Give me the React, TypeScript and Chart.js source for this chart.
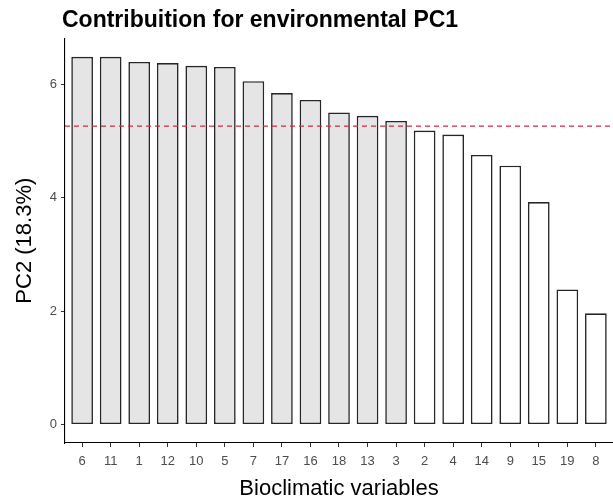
import { useEffect, useRef } from "react";
import { Chart, registerables } from "chart.js";

Chart.register(...registerables);

const chartTitle = "Contribuition for environmental PC1";
const xAxisTitle = "Bioclimatic variables";
const yAxisTitle = "PC2 (18.3%)";

const categories = ["6", "11", "1", "12", "10", "5", "7", "17", "16", "18", "13", "3", "2", "4", "14", "9", "15", "19", "8"];
const contributions = [6.48, 6.48, 6.39, 6.37, 6.32, 6.3, 6.05, 5.84, 5.72, 5.5, 5.44, 5.35, 5.18, 5.11, 4.75, 4.56, 3.92, 2.38, 1.96];
const expectedContribution = 5.26;
const yTickValues = [0, 2, 4, 6];

const FONT = '"Liberation Sans", Arial, Helvetica, sans-serif';

const titlePlugin = {
  id: "plotTitle",
  afterDraw(chart: any) {
    const ctx = chart.ctx;
    ctx.save();
    ctx.font = `bold 23px ${FONT}`;
    ctx.fillStyle = "#000000";
    ctx.textAlign = "left";
    ctx.textBaseline = "alphabetic";
    ctx.fillText(chartTitle, chart.chartArea.left - 3, 27);
    ctx.restore();
  },
};

export default function App() {
  const canvasRef = useRef<HTMLCanvasElement | null>(null);

  useEffect(() => {
    if (!canvasRef.current) return;
    Chart.defaults.font.family = FONT;
    const n = categories.length;
    const chart = new Chart(canvasRef.current, {
      type: "bar",
      data: {
        datasets: [
          {
            type: "line",
            data: [
              { x: -0.6, y: expectedContribution },
              { x: n - 0.4, y: expectedContribution },
            ],
            borderColor: "#d42a40",
            borderWidth: 1.2,
            borderDash: [5, 4],
            pointRadius: 0,
            fill: false,
            order: 0,
          } as any,
          {
            type: "bar",
            data: categories.map((_, i) => ({ x: i, y: contributions[i] })),
            backgroundColor: contributions.map((v) => (v > expectedContribution ? "#E5E5E5" : "#FFFFFF")),
            borderColor: "#262626",
            borderWidth: 1.6,
            borderSkipped: false,
            barPercentage: 0.76,
            categoryPercentage: 1,
            order: 1,
          } as any,
        ],
      },
      options: {
        animation: false,
        responsive: false,
        maintainAspectRatio: false,
        layout: { padding: { top: 38.4, right: 0, bottom: 0, left: 0 } },
        plugins: {
          legend: { display: false },
          tooltip: { enabled: false },
          title: { display: false },
        },
        scales: {
          x: {
            type: "linear",
            min: -0.6,
            max: n - 0.4,
            offset: false,
            afterBuildTicks: (s: any) => {
              s.ticks = categories.map((_, i) => ({ value: i }));
            },
            afterFit: (s: any) => {
              s.height = 57;
            },
            ticks: {
              autoSkip: false,
              maxRotation: 0,
              minRotation: 0,
              padding: 7,
              color: "#4d4d4d",
              font: { size: 13 },
              callback: (_v: any, i: number) => categories[i],
            },
            grid: {
              display: true,
              drawOnChartArea: false,
              drawTicks: true,
              tickLength: 4,
              color: "#333333",
              offset: false,
            },
            border: { display: true, color: "#000000", width: 1.1 },
            title: {
              display: true,
              text: xAxisTitle,
              color: "#000000",
              font: { size: 22, lineHeight: 1.05 },
              padding: { top: 0, bottom: 0 },
            },
          } as any,
          y: {
            type: "linear",
            min: -0.324,
            max: 6.804,
            afterBuildTicks: (s: any) => {
              s.ticks = yTickValues.map((v) => ({ value: v }));
            },
            afterFit: (s: any) => {
              s.width = 65;
            },
            ticks: {
              padding: 4,
              color: "#4d4d4d",
              font: { size: 13 },
            },
            grid: {
              display: true,
              drawOnChartArea: false,
              drawTicks: true,
              tickLength: 4,
              color: "#333333",
            },
            border: { display: true, color: "#000000", width: 1.1 },
            title: {
              display: true,
              text: yAxisTitle,
              color: "#000000",
              font: { size: 22, lineHeight: 1.05 },
              padding: { top: 13, bottom: 0 },
            },
          } as any,
        },
      },
      plugins: [titlePlugin],
    } as any);
    return () => chart.destroy();
  }, []);

  return (
    <div style={{ position: "absolute", left: 0, top: 0, width: 613, height: 500, background: "#ffffff" }}>
      <canvas ref={canvasRef} width={613} height={500} />
    </div>
  );
}
